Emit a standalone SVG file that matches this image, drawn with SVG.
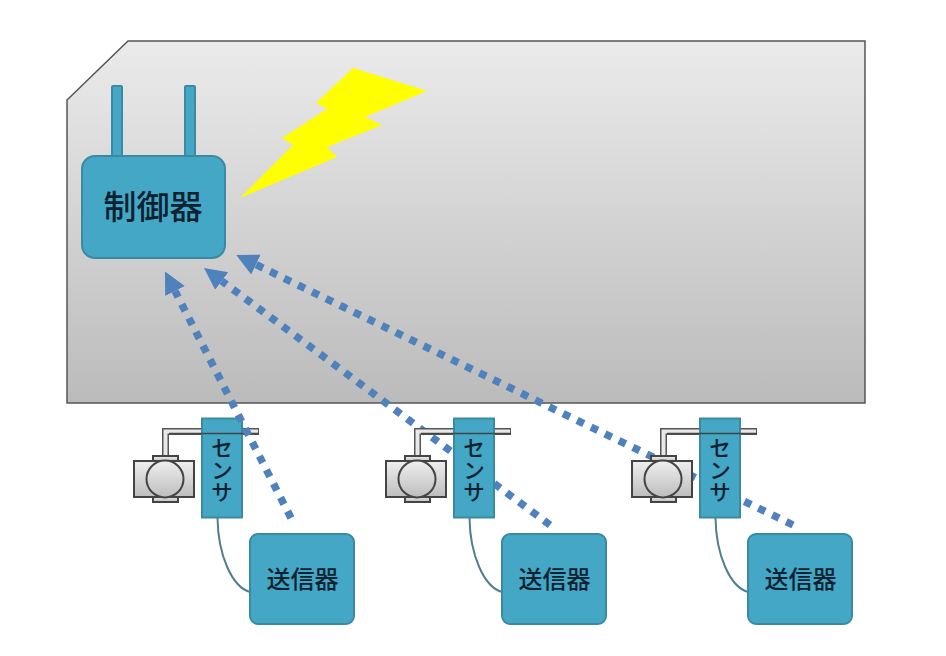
<svg xmlns="http://www.w3.org/2000/svg" xmlns:xlink="http://www.w3.org/1999/xlink" width="946" height="656" viewBox="0 0 946 656">
  <style>
    .box { fill: #45a7c6; stroke: #3a8aa3; stroke-width: 2; }
    .label { font-family: "Noto Sans CJK JP", "Noto Sans CJK SC", sans-serif; font-weight: 500; fill: #0c2230; text-anchor: middle; }
    .radio { fill: none; stroke: #4f81bd; stroke-width: 7.500; stroke-dasharray: 7.500 8; marker-end: url(#head); }
    .wire { fill: none; stroke: #4f7f8f; stroke-width: 2; }
    .metal { fill: url(#metal); stroke: #444; stroke-width: 2; }
  </style>
  <defs>
    <linearGradient id="panel" x1="0" y1="0" x2="0" y2="1">
      <stop offset="0" stop-color="#ebebeb"/>
      <stop offset="1" stop-color="#bbbbbb"/>
    </linearGradient>
    <linearGradient id="metal" x1="0" y1="0" x2="0" y2="1">
      <stop offset="0" stop-color="#efefef"/>
      <stop offset="1" stop-color="#bdbdbd"/>
    </linearGradient>
    <marker id="head" markerUnits="userSpaceOnUse" markerWidth="26" markerHeight="26" refX="0" refY="12" orient="auto">
      <path d="M0 1 L22 12 L0 23 Z" fill="#4f81bd"/>
    </marker>
    <g id="sensor-body">
      <path d="M165.500 457 V431.500 H259" fill="none" stroke="#555" stroke-width="7"/>
      <path d="M165.500 457 V431.500 H258" fill="none" stroke="#e8e8e8" stroke-width="4"/>
      <rect class="metal" x="153" y="456" width="25" height="6"/>
      <rect class="metal" x="153" y="496" width="25" height="6"/>
      <rect class="metal" x="134" y="461" width="60" height="36"/>
      <circle class="metal" cx="165" cy="479" r="18.500"/>
      <rect class="box" x="202" y="418.500" width="40" height="99"/>
      <path d="M169 433.500 H259" fill="none" stroke="#444" stroke-width="1.500"/>
      <text class="label" x="222" y="469.500" font-size="22" writing-mode="vertical-rl">センサ</text>
      <path class="wire" d="M217.500 518 C218 555 232 587 250 592"/>
      <rect class="box" x="250" y="534" width="104" height="90" rx="8"/>
      <text class="label" x="302.500" y="588" font-size="24">送信器</text>
    </g>
  </defs>

  <g id="panel-body">
    <polygon points="67,100 128,41 865,41 865,403 67,403" fill="url(#panel)" stroke="#555" stroke-width="1.500"/>
  </g>

  <g id="sensor-1"><use href="#sensor-body"/></g>

  <g id="connectors">
    <line class="radio" x1="291" y1="518" x2="175" y2="291"/>
    <line class="radio" x1="550" y1="525" x2="221.700" y2="281"/>
    <line class="radio" x1="793" y1="525" x2="256" y2="264.600"/>
  </g>

  <g id="controller">
    <rect class="box" x="112" y="86" width="10" height="71" rx="1"/>
    <rect class="box" x="185" y="86" width="10" height="71" rx="1"/>
    <rect class="box" x="82" y="156" width="143" height="102" rx="13"/>
    <text class="label" x="153" y="219" font-size="33">制御器</text>
  </g>

  <g id="lightning">
    <polygon points="353,68 427,91 365,117 382,125 327,147 337,157 240,198 293,145 282,138 327,109 316,103" fill="#ffff00"/>
  </g>

  <g id="sensor-2"><use href="#sensor-body" transform="translate(252 0)"/></g>
  <g id="sensor-3"><use href="#sensor-body" transform="translate(498 0)"/></g>
</svg>
